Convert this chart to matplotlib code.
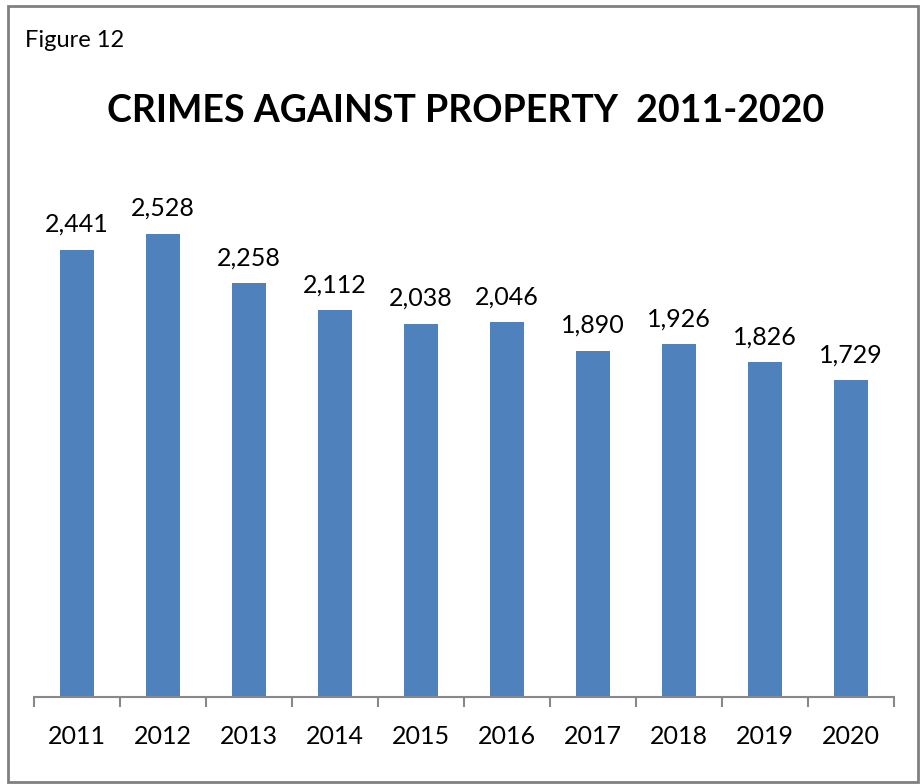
import matplotlib.pyplot as plt
from matplotlib.patches import Rectangle

years = ['2011', '2012', '2013', '2014', '2015', '2016', '2017', '2018', '2019', '2020']
crimes = [2441, 2528, 2258, 2112, 2038, 2046, 1890, 1926, 1826, 1729]

plt.rcParams['font.family'] = ['Lato', 'DejaVu Sans']

fig = plt.figure(figsize=(9.22, 7.84), dpi=100)
ax = fig.add_axes([0.0369, 0.111, 0.9327, 0.701])

x = range(len(years))
bars = ax.bar(x, crimes, width=0.4, color='#4F81BD')
for xi, v in zip(x, crimes):
    ax.annotate(f'{v:,}', (xi, v), xytext=(0, 10), textcoords='offset points',
                ha='center', va='bottom', fontsize=18, color='black')

ax.set_xlim(-0.5, len(years) - 0.5)
ax.set_ylim(0, 3000)
ax.set_yticks([])
for side in ['top', 'right', 'left']:
    ax.spines[side].set_visible(False)
ax.spines['bottom'].set_color('#888888')
ax.spines['bottom'].set_linewidth(1.5)

# ticks sit between categories, labels centred under bars
ax.set_xticks([i - 0.5 for i in range(len(years) + 1)])
ax.set_xticklabels([])
ax.set_xticks(list(x), minor=True)
ax.set_xticklabels(years, minor=True, fontsize=18)
ax.tick_params(axis='x', which='major', length=7, width=1.5, color='#888888')
ax.tick_params(axis='x', which='minor', length=0, pad=20)

fig.text(0.505, 0.858, 'CRIMES AGAINST PROPERTY  2011-2020', ha='center', va='center',
         fontsize=27, fontweight='bold')
fig.text(0.027, 0.948, 'Figure 12', ha='left', va='center', fontsize=17)

fig.patches.append(Rectangle((0.009, 0.003), 0.987, 0.989, transform=fig.transFigure,
                             fill=False, edgecolor='#808080', linewidth=2))

fig.savefig('out.png', dpi=100)
